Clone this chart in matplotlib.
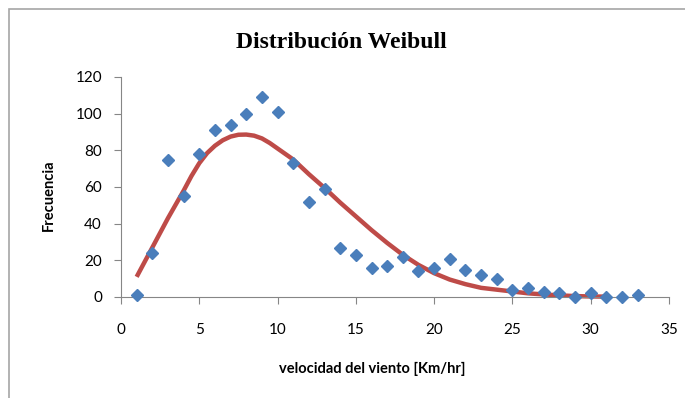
import numpy as np
import matplotlib.pyplot as plt
from matplotlib.patches import Rectangle

# observed frequency per wind speed
vel = np.arange(1, 34)
frec = [1, 24, 75, 55, 78, 91, 94, 100, 109, 101, 73, 52, 59, 27, 23, 16,
        17, 22, 14, 16, 21, 15, 12, 10, 4, 5, 3, 2, 0, 2, 0, 0, 1]

# weibull curve
vel_w = [1, 2, 3, 4, 4.5, 5, 5.5, 6, 6.5, 7, 7.5, 8, 8.5, 9, 9.5, 10, 10.5, 11,
         12, 13, 14, 15, 16, 17, 18, 19, 20, 21, 22, 23, 24, 25, 26, 27, 28,
         29, 30, 31]
frec_w = [11, 27, 43, 58, 66, 73, 78.5, 82.5, 85.5, 87.5, 88.5, 88.6, 88, 86.5,
          84, 81, 78, 75, 67, 59.5, 51.5, 44, 36.5, 29.5, 23, 17.5, 13, 9.5,
          7, 5, 4, 3, 2, 1.4, 0.9, 0.5, 0.3, 0.2]

xticks = np.arange(0, 36, 5)
yticks = np.arange(0, 121, 20)

W, H = 685, 398
fig = plt.figure(figsize=(W/100, H/100), dpi=100)
ax = fig.add_axes([121/W, 1-297/H, (669-121)/W, (297-77)/H])

# chart border (only top and left fall inside the image)
fig.patches.append(Rectangle((9/W, -0.05), 1.2, 1-9/H+0.05, transform=fig.transFigure,
                             fill=False, edgecolor='#a6a6a6', lw=1.2))

ax.plot(vel_w, frec_w, color='#BE4B48', lw=3.2, solid_capstyle='butt', zorder=2)
ax.plot(vel, frec, 'D', color='#4A7EBB', ms=6, mec='#4A7EBB', zorder=3)

ax.set_xlim(0, 35)
ax.set_ylim(0, 120)
ax.set_xticks(xticks)
ax.set_yticks(yticks)
for s in ['top', 'right']:
    ax.spines[s].set_visible(False)
for s in ['left', 'bottom']:
    ax.spines[s].set_color('#868686')
ax.tick_params(direction='out', length=4.7, color='#868686', labelsize=11, labelcolor='black')
ax.tick_params(axis='x', pad=14)
ax.tick_params(axis='y', pad=9)
for lab in ax.get_xticklabels() + ax.get_yticklabels():
    lab.set_family('Lato')
for ln in ax.lines:
    ln.set_clip_on(False)

ax.set_xlabel('velocidad del viento [Km/hr]', fontsize=10.5, fontweight='bold', family='Lato')
ax.xaxis.set_label_coords((372-121)/(669-121), -(362-297)/(297-77))
ax.set_ylabel('Frecuencia', fontsize=10.5, fontweight='bold', family='Lato')
ax.yaxis.set_label_coords(-(121-56)/(669-121), (297-195)/(297-77))

fig.text(341/W, 1-42/H, 'Distribución Weibull', ha='center', va='center',
         fontsize=17, fontweight='bold', family='Liberation Serif')

fig.savefig('out.png', dpi=100)
